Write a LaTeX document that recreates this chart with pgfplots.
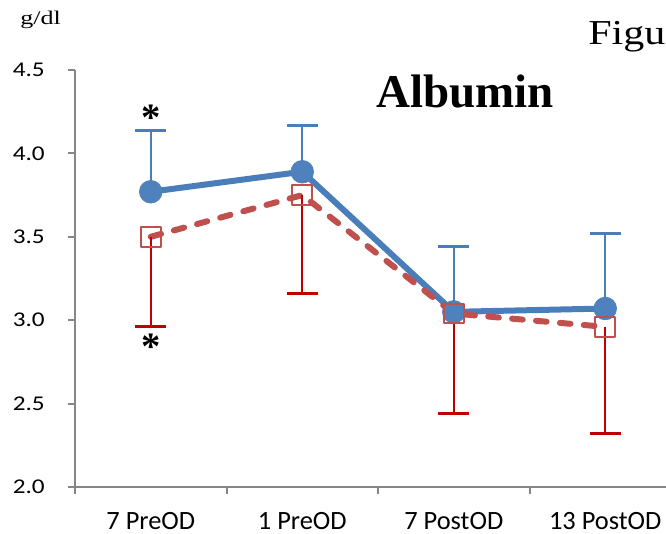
\documentclass[border=0pt]{standalone}
\usepackage{pgfplots}
\pgfplotsset{compat=1.18}
\usepackage{pgfplotstable}
\usepackage{fontspec}
\usepackage{graphicx}
\setmainfont{Liberation Serif}
\newfontfamily\calibri{Carlito}

\definecolor{serblue}{HTML}{4A7EBB}
\definecolor{markblue}{HTML}{4F81BD}
\definecolor{serred}{HTML}{C0504D}
\definecolor{errred}{HTML}{C00000}
\definecolor{axgray}{HTML}{868686}

% Serum albumin (g/dl), mean with one-sided SD
\pgfplotstableread{
x y e
0 3.77 0.37
1 3.89 0.28
2 3.05 0.39
3 3.07 0.45
}\groupA
\pgfplotstableread{
x y e
0 3.50 0.54
1 3.75 0.59
2 3.04 0.60
3 2.96 0.64
}\groupB

\begin{document}
\begin{tikzpicture}
\useasboundingbox (0pt,0pt) rectangle (499.5pt,400.5pt);
\clip (0pt,0pt) rectangle (499.5pt,400.5pt);
\begin{axis}[
  at={(56.25pt,35.25pt)}, anchor=south west,
  scale only axis, width=454.5pt, height=312.75pt,
  xmin=-0.5, xmax=3.5, ymin=2, ymax=4.5,
  axis x line*=bottom, axis y line*=left,
  axis line style={-, draw=axgray, line width=1.5pt},
  tick style={draw=axgray, line width=1.5pt},
  tick align=outside, major tick length=5.25pt,
  xtick={-0.5,0.5,1.5,2.5,3.5}, xticklabels={},
  extra x ticks={0,1,2,3},
  extra x tick labels={7 PreOD, 1 PreOD, 7 PostOD, 13 PostOD},
  extra x tick style={major tick length=0pt, tick style={draw=none},
    xticklabel style={anchor=north, inner sep=0pt, yshift=-18.5pt,
      font=\calibri\fontsize{19.8}{22}\selectfont}},
  ytick={2,2.5,3,3.5,4,4.5},
  yticklabel={\scalebox{1.2}[1]{\pgfmathprintnumber[fixed,fixed zerofill,precision=1,assume math mode=true]{\tick}}},
  yticklabel style={anchor=east, inner sep=0pt, xshift=-17.25pt,
    font=\calibri\fontsize{15.75}{18}\selectfont},
  clip=false,
]
\addplot[serblue, line width=4.5pt, line join=round,
  mark=*, mark size=8.5pt,
  mark options={solid, fill=markblue, draw=markblue, line width=0.5pt},
  error bars/.cd, y dir=plus, y explicit,
  error bar style={solid, line width=1.6pt, color=serblue},
  error mark options={solid, rotate=90, line width=2.2pt, mark size=11.5pt, color=serblue}]
  table[x=x, y=y, y error=e] {\groupA};
\addplot[serred, line width=4.5pt, line cap=round, line join=round,
  dash pattern=on 8pt off 10pt,
  mark=square, mark size=7.4pt,
  mark options={solid, draw=serred, fill=none, line width=1.5pt},
  error bars/.cd, y dir=minus, y explicit,
  error bar style={solid, line cap=butt, line width=1.6pt, color=errred},
  error mark options={solid, rotate=90, line cap=butt, line width=2.2pt, mark size=11.5pt, color=errred}]
  table[x=x, y=y, y error=e] {\groupB};
% significance markers at 7 PreOD
\node[anchor=north, inner sep=0pt, font=\bfseries\fontsize{29}{29}\selectfont] at (axis cs:0,4.289) {*};
\node[anchor=north, inner sep=0pt, font=\bfseries\fontsize{29}{29}\selectfont] at (axis cs:0,2.916) {*};
\end{axis}
\node[anchor=base west, inner sep=0pt, font=\fontsize{14.5}{16}\selectfont] at (15pt,381.75pt) {\scalebox{1.35}[1]{g/dl}};
\node[anchor=base west, inner sep=0pt, font=\bfseries\fontsize{35.25}{40}\selectfont] at (282pt,319.5pt) {Albumin};
\node[anchor=base west, inner sep=0pt, font=\fontsize{26.25}{30}\selectfont] at (441pt,366.75pt) {\scalebox{1.2}[1]{Figu}};
\end{tikzpicture}
\end{document}
